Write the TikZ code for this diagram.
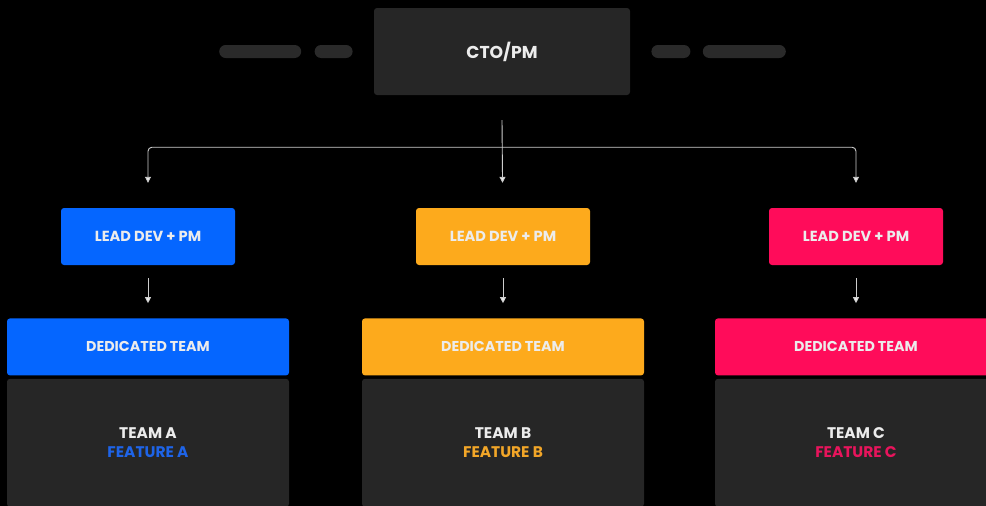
\documentclass[tikz,border=0pt]{standalone}
\usepackage{fontspec}
\setmainfont{Poppins}
\usepackage{xcolor}
\definecolor{night}{RGB}{0,0,0}
\definecolor{slate}{RGB}{38,38,38}
\definecolor{pill}{RGB}{42,42,42}
\definecolor{chalk}{RGB}{236,236,236}
\definecolor{wire}{RGB}{205,205,205}
\definecolor{azure}{RGB}{5,102,255}
\definecolor{amber}{RGB}{253,170,28}
\definecolor{rose}{RGB}{255,12,90}
\definecolor{azuretext}{RGB}{30,100,232}
\definecolor{ambertext}{RGB}{242,166,40}
\definecolor{rosetext}{RGB}{232,20,92}
\usetikzlibrary{positioning, calc, arrows.meta}
\tikzstyle{Arrow} = [
draw=wire,
line width=0.9pt,
-{Triangle[width=6pt,length=6pt,fill=chalk]}]
\tikzstyle{Pill} = [
fill=pill, rounded corners=6.5pt,
minimum height=13pt, inner sep=0pt]
\tikzstyle{Lead} = [
rounded corners=3pt, minimum width=174pt, minimum height=57pt,
text=chalk, font=\bfseries\fontsize{14.6}{16}\selectfont]
\tikzstyle{Crew} = [
rounded corners=3pt, minimum width=282pt, minimum height=57pt,
text=chalk, font=\bfseries\fontsize{14.3}{16}\selectfont]
\tikzstyle{Team} = [
fill=slate, rounded corners=3pt, minimum width=282pt, minimum height=128pt,
align=center, text=chalk, font=\bfseries\fontsize{15.4}{19}\selectfont]

\begin{document}
\begin{tikzpicture}[x=1pt, y=-1pt]
    \fill[night] (0,0) rectangle (986,506);
    \clip (0,0) rectangle (986,506);

    \node [fill=slate, rounded corners=3pt, minimum width=256pt, minimum height=87pt,
           text=chalk, font=\bfseries\fontsize{17.2}{19}\selectfont] (cto) at (502,51.5) {CTO/PM};
    \node [Pill, minimum width=38pt, left=21pt of cto] (p2) {};
    \node [Pill, minimum width=82pt, left=13pt of p2] (p1) {};
    \node [Pill, minimum width=39pt, right=21pt of cto] (p3) {};
    \node [Pill, minimum width=83pt, right=12pt of p3] (p4) {};

    \node [Lead, fill=azure] (leadA) at (148,236.5) {LEAD DEV + PM};
    \node [Lead, fill=amber] (leadB) at (503,236.5) {LEAD DEV + PM};
    \node [Lead, fill=rose] (leadC) at (856,236.5) {LEAD DEV + PM};

    \node [Crew, fill=azure, below=53pt of leadA] (crewA) {DEDICATED TEAM};
    \node [Crew, fill=amber, below=53pt of leadB] (crewB) {DEDICATED TEAM};
    \node [Crew, fill=rose, below=53pt of leadC] (crewC) {DEDICATED TEAM};

    \node [Team, below=3pt of crewA] (teamA) {TEAM A\\\textcolor{azuretext}{FEATURE A}};
    \node [Team, below=3pt of crewB] (teamB) {TEAM B\\\textcolor{ambertext}{FEATURE B}};
    \node [Team, below=3pt of crewC] (teamC) {TEAM C\\\textcolor{rosetext}{FEATURE C}};

    \coordinate [below=25pt of cto] (top);
    \coordinate (hub) at ($(top)+(0,27)$);

    \draw[Arrow, shorten >=25pt] (top) -- (leadB);
    \draw[Arrow, rounded corners=4pt, shorten >=25pt] (hub) -| (leadA);
    \draw[Arrow, rounded corners=4pt, shorten >=25pt] (hub) -| (leadC);
    \draw[Arrow, shorten <=13pt, shorten >=15pt] (leadA) -- (crewA);
    \draw[Arrow, shorten <=13pt, shorten >=15pt] (leadB) -- (crewB);
    \draw[Arrow, shorten <=13pt, shorten >=15pt] (leadC) -- (crewC);
\end{tikzpicture}
\end{document}
